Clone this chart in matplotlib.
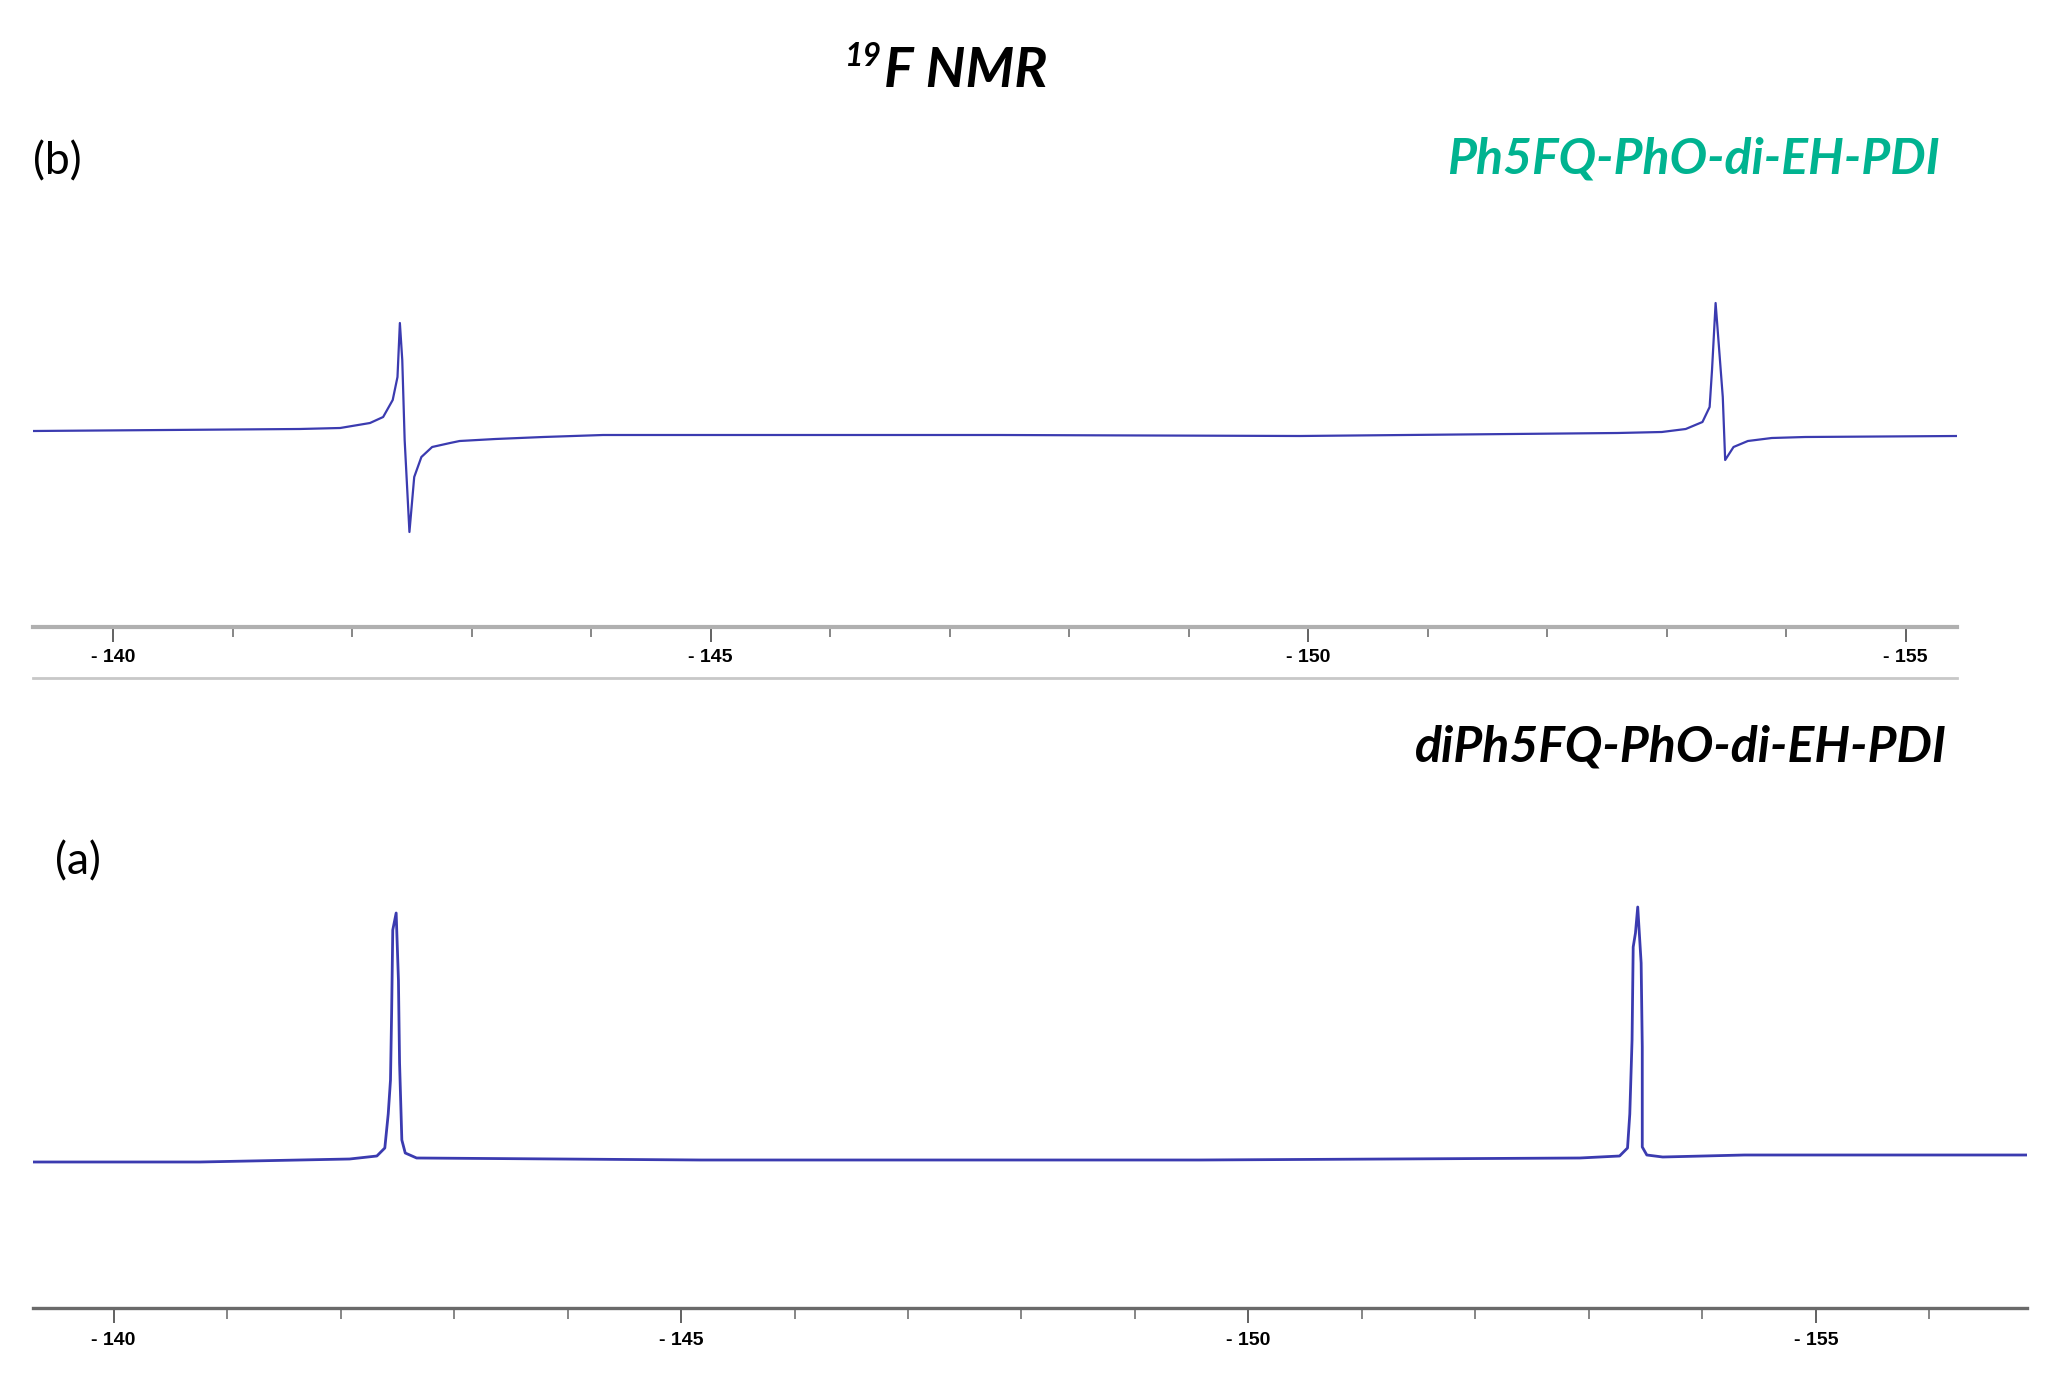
import matplotlib
matplotlib.use("Agg")
import matplotlib.pyplot as plt
from matplotlib.lines import Line2D
from matplotlib.ticker import MultipleLocator, FuncFormatter

# spectrum (b) Ph5FQ-PhO-di-EH-PDI (ppm, intensity)
ppm_b = [-139.33, -141.56, -141.90, -142.15, -142.26, -142.34, -142.38, -142.40,
         -142.42, -142.44, -142.48, -142.52, -142.58, -142.67, -142.82, -142.90,
         -143.20, -143.60, -144.10, -147.42, -149.93, -152.59, -152.96, -153.16,
         -153.30, -153.36, -153.38, -153.41, -153.47, -153.49, -153.56, -153.68,
         -153.88, -154.16, -155.43]
int_b = [0, 2, 3, 8, 14, 31, 54, 108,
         71, -9, -101, -46, -26, -16, -12, -10,
         -8, -6, -4, -4, -5, -2, -1, 2,
         9, 24, 61, 128, 34, -29, -16, -10,
         -7, -6, -5]

# spectrum (a) diPh5FQ-PhO-di-EH-PDI
ppm_a = [-139.29, -140.76, -142.08, -142.32, -142.39, -142.42, -142.44, -142.45,
         -142.46, -142.49, -142.51, -142.52, -142.54, -142.57, -142.67, -145.17,
         -149.57, -152.92, -153.27, -153.34, -153.36, -153.38, -153.39, -153.41,
         -153.43, -153.46, -153.47, -153.47, -153.51, -153.65, -154.37, -156.86]
int_a = [0, 0, 3, 6, 14, 48, 82, 149,
         232, 249, 182, 99, 22, 9, 4, 2,
         2, 4, 6, 14, 48, 122, 215, 229,
         255, 199, 115, 15, 7, 5, 7, 7]

major_ticks = [-140, -145, -150, -155]

title_sup = "19"
title_main = "F NMR"
label_b = "Ph5FQ-PhO-di-EH-PDI"
label_a = "diPh5FQ-PhO-di-EH-PDI"

W, H = 2056, 1374
line_col = "#3b3bb0"
txt_font = ["Lato", "DejaVu Sans"]
tick_font = ["Liberation Sans Narrow", "Liberation Sans", "DejaVu Sans"]


def fx(px):
    return px / W


def fy(py):
    return (H - py) / H


def ppm_label(v, pos):
    return "- %d" % abs(round(v))


def setup_axis(ax, spine_col, spine_w, major_len, minor_len, pad):
    for s in ["left", "right", "top"]:
        ax.spines[s].set_visible(False)
    ax.spines["bottom"].set_color(spine_col)
    ax.spines["bottom"].set_linewidth(spine_w)
    ax.set_yticks([])
    ax.set_xticks(major_ticks)
    ax.xaxis.set_minor_locator(MultipleLocator(1))
    ax.xaxis.set_major_formatter(FuncFormatter(ppm_label))
    ax.tick_params(axis="x", which="major", length=major_len, width=1.3,
                   color="#555555", pad=pad)
    ax.tick_params(axis="x", which="minor", length=minor_len, width=1.1,
                   color="#666666")
    for lab in ax.get_xticklabels():
        lab.set_fontfamily(tick_font)
        lab.set_fontsize(14)
        lab.set_fontweight("bold")
    ax.patch.set_alpha(0)


fig = plt.figure(figsize=(W / 100, H / 100), dpi=100)

# top panel (b)
ax_b = fig.add_axes([fx(33), fy(627), fx(1957) - fx(33), fy(200) - fy(627)])
ax_b.plot(ppm_b, int_b, color=line_col, lw=1.6)
ax_b.set_xlim(-139.33, -155.43)
ax_b.set_ylim(-196, 231)
setup_axis(ax_b, "#b0b0b0", 3.0, 11, 7, 5)
fig.add_artist(Line2D([fx(33), fx(1957)], [fy(678), fy(678)],
                      transform=fig.transFigure, color="#c8c8c8", lw=2))

# bottom panel (a)
ax_a = fig.add_axes([fx(33), fy(1308), fx(2027) - fx(33), fy(880) - fy(1308)])
ax_a.plot(ppm_a, int_a, color=line_col, lw=2.0)
ax_a.set_xlim(-139.29, -156.86)
ax_a.set_ylim(-146, 282)
setup_axis(ax_a, "#6a6a6a", 2.4, 11, 8, 6)

# texts
fig.text(fx(882), fy(66), title_sup, fontsize=23, fontweight="bold",
         fontstyle="italic", family=txt_font, ha="right", va="baseline")
fig.text(fx(884), fy(87), title_main, fontsize=40, fontweight="bold",
         fontstyle="italic", family=txt_font, ha="left", va="baseline")
fig.text(fx(33), fy(162), "(b)", fontsize=32, family=txt_font,
         ha="left", va="center")
fig.text(fx(55), fy(862), "(a)", fontsize=32, family=txt_font,
         ha="left", va="center")
fig.text(fx(1940), fy(174), label_b, fontsize=36, fontweight="bold",
         fontstyle="italic", family=txt_font, color="#00b390",
         ha="right", va="baseline")
fig.text(fx(1947), fy(762), label_a, fontsize=36, fontweight="bold",
         fontstyle="italic", family=txt_font, color="black",
         ha="right", va="baseline")

fig.savefig("out.png", dpi=100, facecolor="white")
